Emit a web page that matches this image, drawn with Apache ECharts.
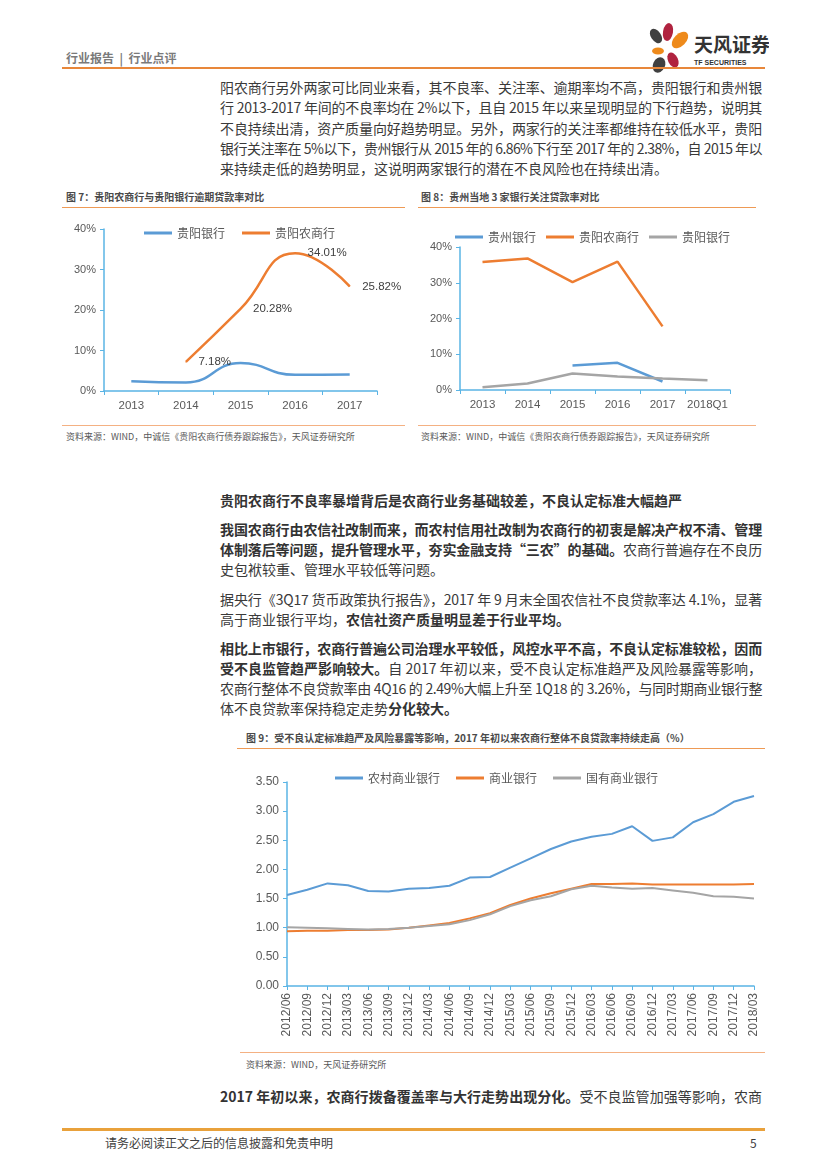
<!DOCTYPE html>
<html><head><meta charset="utf-8">
<script src="https://cdn.jsdelivr.net/npm/echarts@6/dist/echarts.min.js"></script>
<style>
body{margin:0;background:#fff;width:827px;height:1169px;position:relative;overflow:hidden;font-family:"Noto Sans CJK SC","Noto Sans",sans-serif;color:#404040}
.a{position:absolute;white-space:nowrap}
.ln{position:absolute;left:220px;width:542px;height:20px;line-height:20px;font-size:14px;text-align:justify;text-align-last:justify;white-space:nowrap;color:#3a3a3a;font-family:"Liberation Sans Narrow","Noto Sans CJK SC",sans-serif}
.ll{text-align-last:left}
b{font-weight:bold;color:#333}
.hr{position:absolute;height:0}
.ft{font-size:10px;font-weight:bold;color:#4a4a4a}
.src{font-size:9px;color:#595959}
.ch{position:absolute}
</style></head>
<body>
<div class="a" style="left:66px;top:49px;font-size:12px;font-weight:bold;color:#7a7a7a">行业报告&nbsp;&nbsp;|&nbsp;&nbsp;行业点评</div>
<svg class="a" style="left:644px;top:22px" width="125" height="54" viewBox="0 0 125 54">
  <ellipse cx="12" cy="14" rx="5" ry="8" transform="rotate(-35 12 14)" fill="#404040"/>
  <ellipse cx="24" cy="10" rx="5" ry="9" transform="rotate(10 24 10)" fill="#B0233F"/>
  <ellipse cx="36" cy="18" rx="6" ry="10" transform="rotate(45 36 18)" fill="#EE8A1B"/>
  <ellipse cx="14" cy="29" rx="6" ry="3.5" fill="#EE8A1B"/>
  <ellipse cx="29" cy="38" rx="5" ry="8" transform="rotate(-25 29 38)" fill="#B0233F"/>
  <ellipse cx="15" cy="43" rx="6" ry="8" transform="rotate(25 15 43)" fill="#404040"/>
  <text x="50" y="30" font-size="19" font-weight="bold" fill="#333" font-family="Noto Sans CJK SC">天风证券</text>
  <text x="50" y="43" font-size="7" fill="#333" font-family="Liberation Sans" font-weight="bold">TF SECURITIES</text>
</svg>
<div class="hr" style="left:62px;top:67px;width:703px;border-top:2px solid #E8873A"></div>

<div class="ln" style="top:77px">阳农商行另外两家可比同业来看，其不良率、关注率、逾期率均不高，贵阳银行和贵州银</div>
<div class="ln" style="top:97px">行 2013-2017 年间的不良率均在 2%以下，且自 2015 年以来呈现明显的下行趋势，说明其</div>
<div class="ln" style="top:118px">不良持续出清，资产质量向好趋势明显。另外，两家行的关注率都维持在较低水平，贵阳</div>
<div class="ln" style="top:138px">银行关注率在 5%以下，贵州银行从 2015 年的 6.86%下行至 2017 年的 2.38%，自 2015 年以</div>
<div class="ln ll" style="top:158px">来持续走低的趋势明显，这说明两家银行的潜在不良风险也在持续出清。</div>

<div class="a ft" style="left:66px;top:189px">图 7：贵阳农商行与贵阳银行逾期贷款率对比</div>
<div class="hr" style="left:62px;top:207px;width:343px;border-top:1px solid #EE9A55"></div>
<div class="a ft" style="left:421px;top:189px">图 8：贵州当地 3 家银行关注贷款率对比</div>
<div class="hr" style="left:418px;top:207px;width:338px;border-top:1px solid #EE9A55"></div>
<div id="c7" class="ch" style="left:62px;top:212px;width:355px;height:210px"></div>
<div id="c8" class="ch" style="left:418px;top:212px;width:345px;height:210px"></div>
<div class="hr" style="left:62px;top:425px;width:343px;border-top:1px solid #F4B183"></div>
<div class="hr" style="left:418px;top:425px;width:338px;border-top:1px solid #F4B183"></div>
<div class="a src" style="left:66px;top:430px">资料来源：WIND，中诚信《贵阳农商行债券跟踪报告》，天风证券研究所</div>
<div class="a src" style="left:421px;top:430px">资料来源：WIND，中诚信《贵阳农商行债券跟踪报告》，天风证券研究所</div>

<div class="ln ll" style="top:490px"><b>贵阳农商行不良率暴增背后是农商行业务基础较差，不良认定标准大幅趋严</b></div>
<div class="ln" style="top:519px"><b>我国农商行由农信社改制而来，而农村信用社改制为农商行的初衷是解决产权不清、管理</b></div>
<div class="ln" style="top:539px"><b>体制落后等问题，提升管理水平，夯实金融支持“三农”的基础。</b>农商行普遍存在不良历</div>
<div class="ln ll" style="top:559px">史包袱较重、管理水平较低等问题。</div>
<div class="ln" style="top:589px">据央行《3Q17 货币政策执行报告》，2017 年 9 月末全国农信社不良贷款率达 4.1%，显著</div>
<div class="ln ll" style="top:609px">高于商业银行平均，<b>农信社资产质量明显差于行业平均。</b></div>
<div class="ln" style="top:638px"><b>相比上市银行，农商行普遍公司治理水平较低，风控水平不高，不良认定标准较松，因而</b></div>
<div class="ln" style="top:658px"><b>受不良监管趋严影响较大。</b>自 2017 年初以来，受不良认定标准趋严及风险暴露等影响，</div>
<div class="ln" style="top:678px">农商行整体不良贷款率由 4Q16 的 2.49%大幅上升至 1Q18 的 3.26%，与同时期商业银行整</div>
<div class="ln ll" style="top:698px">体不良贷款率保持稳定走势<b>分化较大。</b></div>

<div class="a ft" style="left:246px;top:730px">图 9：受不良认定标准趋严及风险暴露等影响，2017 年初以来农商行整体不良贷款率持续走高（%）</div>
<div class="hr" style="left:237px;top:748px;width:528px;border-top:1px solid #EE9A55"></div>
<div id="c9" class="ch" style="left:237px;top:752px;width:530px;height:298px"></div>
<div class="hr" style="left:240px;top:1052px;width:525px;border-top:1px solid #F4B183"></div>
<div class="a src" style="left:246px;top:1058px">资料来源：WIND，天风证券研究所</div>

<div class="ln" style="top:1086px"><b>2017 年初以来，农商行拨备覆盖率与大行走势出现分化。</b>受不良监管加强等影响，农商</div>

<div class="hr" style="left:62px;top:1128px;width:703px;border-top:3px solid #E9A13B"></div>
<div class="a" style="left:105px;top:1134px;font-size:12px;color:#404040">请务必阅读正文之后的信息披露和免责申明</div>
<div class="a" style="left:750px;top:1134px;font-size:12px;color:#404040">5</div>

<script>
// compress any text line that is wider than its box
document.querySelectorAll('.ln').forEach(el => {
  let ls = 0;
  while (el.scrollWidth > el.clientWidth + 0.5 && ls > -2) {
    ls -= 0.1;
    el.style.letterSpacing = ls.toFixed(2) + 'px';
  }
});

// ---- Chart 7 data ----
const c7Years = ['2013','2014','2015','2016','2017'];
const c7GuiyangBank = [2.4, 2.1, 6.9, 4.0, 4.1];
const c7GuiyangRural = [null, 7.18, 20.28, 34.01, 25.82];
const c7YTicks = [0, 10, 20, 30, 40];

// ---- Chart 8 data ----
const c8Years = ['2013','2014','2015','2016','2017','2018Q1'];
const c8Guizhou = [null, null, 6.86, 7.6, 2.38, null];
const c8GuiyangRural = [35.8, 36.8, 30.2, 35.9, 17.8, null];
const c8GuiyangBank = [0.8, 1.8, 4.6, 3.8, 3.2, 2.7];

// ---- Chart 9 data ----
const c9Quarters = ['2012/06','2012/09','2012/12','2013/03','2013/06','2013/09','2013/12','2014/03','2014/06','2014/09','2014/12','2015/03','2015/06','2015/09','2015/12','2016/03','2016/06','2016/09','2016/12','2017/03','2017/06','2017/09','2017/12','2018/03'];
const c9Rural = [1.56,1.65,1.76,1.73,1.63,1.62,1.67,1.68,1.72,1.86,1.87,2.03,2.19,2.35,2.48,2.56,2.61,2.74,2.49,2.55,2.81,2.95,3.16,3.26];
const c9Commercial = [0.94,0.95,0.95,0.96,0.96,0.97,1.00,1.04,1.08,1.16,1.25,1.39,1.50,1.59,1.67,1.75,1.75,1.76,1.74,1.74,1.74,1.74,1.74,1.75];
const c9StateOwned = [1.01,1.00,0.99,0.98,0.97,0.98,1.00,1.03,1.06,1.13,1.23,1.37,1.47,1.54,1.66,1.72,1.69,1.67,1.68,1.64,1.60,1.54,1.53,1.50];

const BLUE = '#5B9BD5', ORANGE = '#ED7D31', GRAY = '#A5A5A5', AXIS = '#5AB4E5';
const LBL = {color:'#595959', fontSize:11, fontFamily:'Liberation Sans'};

function baseY(min, max, interval, fmt, fs){
  return {type:'value', min, max, interval,
    axisLine:{show:true, lineStyle:{color:AXIS, width:1.5}},
    axisTick:{show:true, length:4, lineStyle:{color:AXIS}},
    splitLine:{show:false},
    axisLabel:Object.assign({formatter:fmt, margin:8}, LBL, {fontSize:fs||11})};
}
function baseX(data, gap, extra){
  return Object.assign({type:'category', data, boundaryGap:gap,
    axisLine:{show:true, lineStyle:{color:AXIS, width:1.5}},
    axisTick:{show:true, length:4, lineStyle:{color:AXIS}},
    axisLabel:Object.assign({margin:8}, LBL)}, extra||{});
}
function legend(left, top, gap, names){
  return {left, top, itemGap:gap, itemWidth:28, itemHeight:3, icon:'rect',
    textStyle:{color:'#595959', fontSize:12, fontFamily:'Noto Sans CJK SC'}, data:names};
}

// Chart 7
const ch7 = echarts.init(document.getElementById('c7'));
ch7.setOption({
  animation:false,
  grid:{left:42, top:17, width:273, height:162},
  legend:legend(77, 10, 17, ['贵阳银行','贵阳农商行']),
  xAxis:baseX(c7Years, true, {axisLabel:Object.assign({margin:9, interval:0}, LBL, {fontSize:11.5})}),
  yAxis:baseY(c7YTicks[0], c7YTicks[c7YTicks.length-1], 10, '{value}%'),
  series:[
    {name:'贵阳银行', type:'line', data:c7GuiyangBank, smooth:0.5, symbol:'none', lineStyle:{width:2.5, color:BLUE}, itemStyle:{color:BLUE}},
    {name:'贵阳农商行', type:'line', data:c7GuiyangRural, smooth:0.5, symbol:'circle', symbolSize:1, lineStyle:{width:2.5, color:ORANGE}, itemStyle:{color:ORANGE},
     label:{show:true, position:'right', distance:12, formatter:p=>p.value.toFixed(2)+'%', color:'#404040', fontSize:11.5, fontFamily:'Liberation Sans'}}
  ]
});

// Chart 8
const ch8 = echarts.init(document.getElementById('c8'));
ch8.setOption({
  animation:false,
  grid:{left:42, top:35, width:270, height:143},
  legend:legend(32, 14, 10, ['贵州银行','贵阳农商行','贵阳银行']),
  xAxis:baseX(c8Years, true, {axisLabel:Object.assign({margin:9, interval:0}, LBL, {fontSize:11.5})}),
  yAxis:baseY(0, 40, 10, '{value}%'),
  series:[
    {name:'贵州银行', type:'line', data:c8Guizhou, symbol:'none', lineStyle:{width:2.5, color:BLUE}, itemStyle:{color:BLUE}},
    {name:'贵阳农商行', type:'line', data:c8GuiyangRural, symbol:'none', lineStyle:{width:2.5, color:ORANGE}, itemStyle:{color:ORANGE}},
    {name:'贵阳银行', type:'line', data:c8GuiyangBank, symbol:'none', lineStyle:{width:2.5, color:GRAY}, itemStyle:{color:GRAY}}
  ]
});

// Chart 9
const ch9 = echarts.init(document.getElementById('c9'));
ch9.setOption({
  animation:false,
  grid:{left:50, top:30, width:467, height:204},
  legend:legend(93, 15, 16, ['农村商业银行','商业银行','国有商业银行']),
  xAxis:baseX(c9Quarters, false, {axisLabel:Object.assign({rotate:90, margin:7, interval:0}, LBL, {fontSize:12})}),
  yAxis:baseY(0, 3.5, 0.5, v=>v.toFixed(2), 12),
  series:[
    {name:'农村商业银行', type:'line', data:c9Rural, symbol:'none', lineStyle:{width:2, color:BLUE}, itemStyle:{color:BLUE}},
    {name:'商业银行', type:'line', data:c9Commercial, symbol:'none', lineStyle:{width:2, color:ORANGE}, itemStyle:{color:ORANGE}},
    {name:'国有商业银行', type:'line', data:c9StateOwned, symbol:'none', lineStyle:{width:2, color:GRAY}, itemStyle:{color:GRAY}}
  ]
});
</script>
</body></html>
